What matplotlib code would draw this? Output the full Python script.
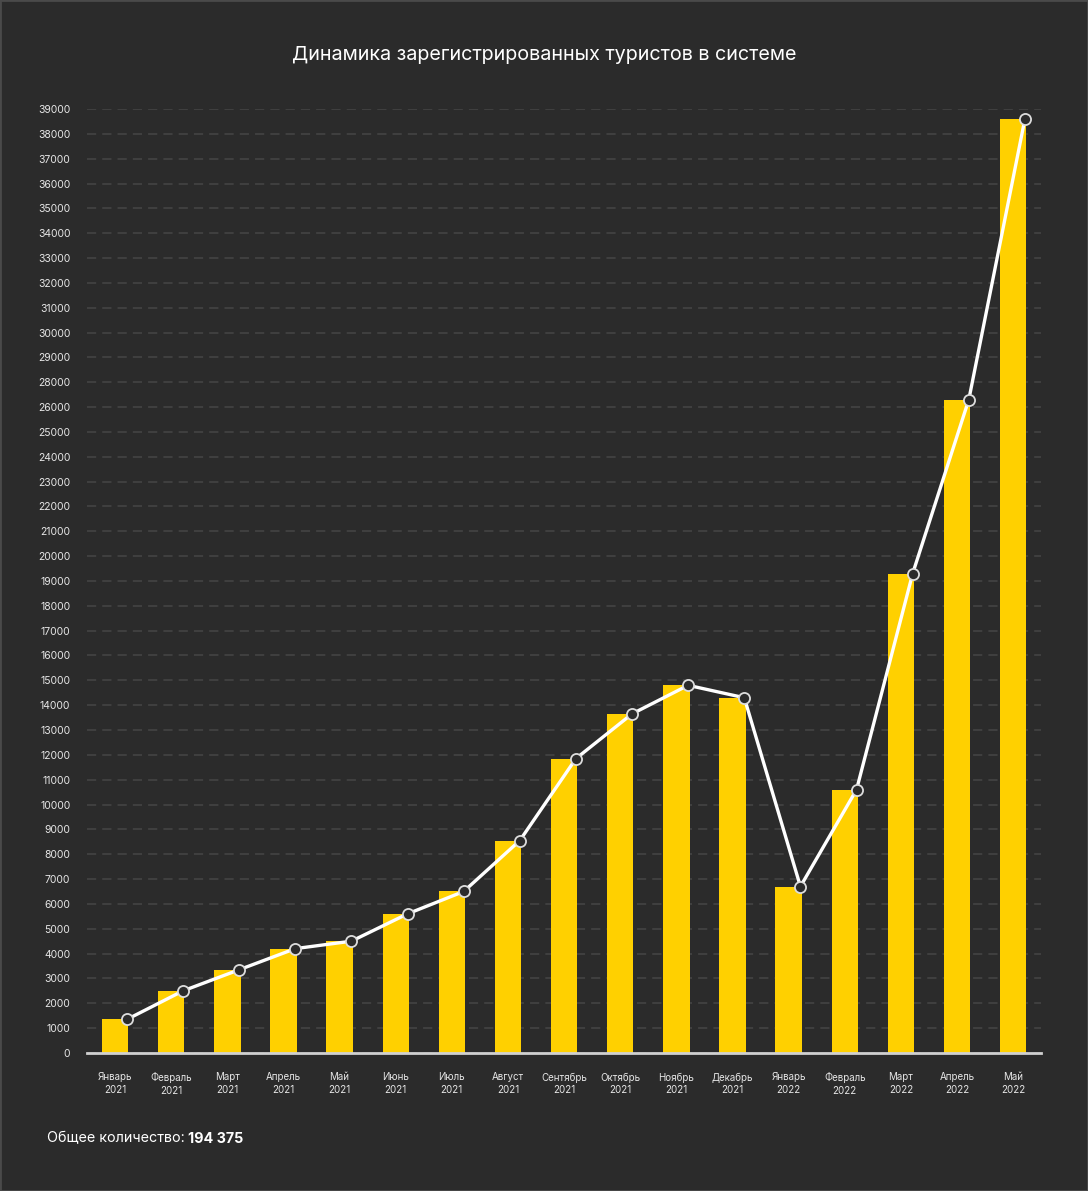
import matplotlib
matplotlib.use("Agg")
import matplotlib.pyplot as plt
import numpy as np

# months shown on the x axis
months = ["Январь\n2021", "Февраль\n2021", "Март\n2021", "Апрель\n2021", "Май\n2021",
          "Июнь\n2021", "Июль\n2021", "Август\n2021", "Сентябрь\n2021", "Октябрь\n2021",
          "Ноябрь\n2021", "Декабрь\n2021", "Январь\n2022", "Февраль\n2022", "Март\n2022",
          "Апрель\n2022", "Май\n2022"]

# registered tourists per month (in axis units)
tourists = [1350, 2500, 3350, 4200, 4500, 5600, 6500, 8550, 11850, 13650,
            14800, 14300, 6700, 10600, 19300, 26300, 37600]

# y tick labels as printed on the original (27000 is missing there)
ytick_labels = [str(v) for v in range(0, 27000, 1000)] + [str(v) for v in range(28000, 40000, 1000)]

total_label = "194 375"

BG = "#2b2b2b"
YELLOW = "#ffd000"
TEXT = "#e6e6e6"

plt.rcParams['font.family'] = ['Inter', 'DejaVu Sans']

fig = plt.figure(figsize=(10.88, 11.91), dpi=100, facecolor=BG)
fig.patches.append(plt.Rectangle((0, 0), 1, 1, transform=fig.transFigure,
                                 fill=False, edgecolor="#4a4a4a", linewidth=2))
ax = fig.add_axes([0.080, 0.1159, 0.877, 0.7926])
ax.set_facecolor(BG)

x = np.arange(len(months))
ax.bar(x, tourists, width=0.47, color=YELLOW, zorder=2)
ax.plot(x + 0.21, tourists, color="white", linewidth=2.4, zorder=3,
        marker="o", markersize=8, markerfacecolor=BG, markeredgecolor="#dddddd",
        markeredgewidth=1.3, clip_on=False)

ax.set_xlim(-0.5, len(months) - 0.5)
ax.set_ylim(0, 38000)
ax.set_yticks(np.arange(len(ytick_labels)) * 1000)
ax.set_yticklabels(ytick_labels)
ax.set_xticks(x)
ax.set_xticklabels(months, linespacing=1.3)

ax.yaxis.grid(True, color="#464646", linestyle=(0, (6, 4)), linewidth=1.1, zorder=0)
ax.set_axisbelow(True)
for s in ["top", "right", "left"]:
    ax.spines[s].set_visible(False)
ax.spines["bottom"].set_color("#d0d0d0")
ax.spines["bottom"].set_linewidth(2)
ax.spines["bottom"].set_zorder(4)

ax.tick_params(axis="y", length=0, pad=12, labelsize=7.5, labelcolor=TEXT)
ax.tick_params(axis="x", length=0, pad=14, labelsize=7, labelcolor=TEXT)

fig.text(0.5, 0.954, "Динамика зарегистрированных туристов в системе",
         ha="center", va="center", color="white", fontsize=14.2)
t1 = fig.text(0.043, 0.044, "Общее количество:", ha="left", va="center",
              color="white", fontsize=10.3)
fig.canvas.draw()
bb = t1.get_window_extent()
fig.text(bb.x1 / fig.bbox.width + 0.003, 0.044, total_label, ha="left", va="center",
         color="white", fontsize=10.3, fontweight="bold")

fig.savefig("out.png", dpi=100, facecolor=BG)
